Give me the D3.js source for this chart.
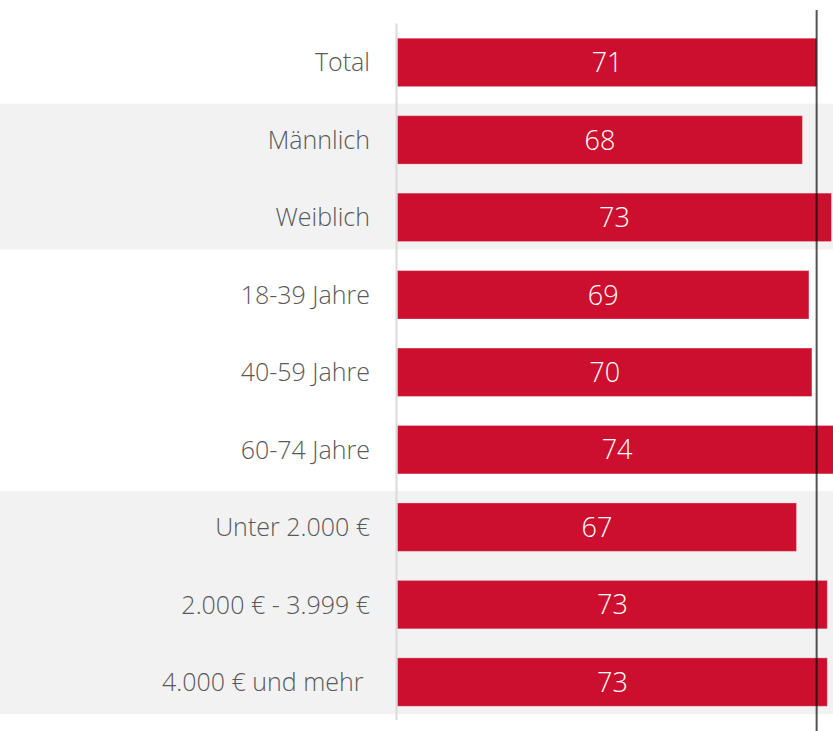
<!DOCTYPE html>
<html>
<head>
<meta charset="utf-8">
<script src="https://cdn.jsdelivr.net/npm/d3@7"></script>
<style>
  html, body { margin: 0; padding: 0; background: #fff; }
  svg { display: block; }
  text { white-space: pre; }
</style>
</head>
<body>
<div id="chart"></div>
<script>
// rows top to bottom
var categories = ["Total", "Männlich", "Weiblich", "18-39 Jahre", "40-59 Jahre", "60-74 Jahre",
    "Unter 2.000 €", "2.000 € - 3.999 €", "4.000 € und mehr "];
// bar lengths
var values = [70.8, 68.4, 73.3, 69.5, 70.0, 74.2, 67.4, 72.6, 72.6];
// printed labels
var valueLabels = ["71", "68", "73", "69", "70", "74", "67", "73", "73"];
// shaded groups: first and last row of each
var shadedGroups = [["Männlich", "Weiblich"], ["Unter 2.000 €", "4.000 € und mehr "]];
var referenceValue = values[0];

var width = 833, height = 731;

var svg = d3.select("#chart").append("svg")
    .attr("width", width)
    .attr("height", height);

var x = d3.scaleLinear().domain([0, 80]).range([397.5, 397.5 + 80 * 5.92]);
var y = d3.scaleBand().domain(categories).range([23.5, 721])
    .paddingInner(0.375).paddingOuter(0.19);

// grey background bands
svg.selectAll(".shade").data(shadedGroups)
    .enter().append("rect").attr("class", "shade")
    .attr("x", 0)
    .attr("width", width)
    .attr("y", function (d) { return y(d[0]) - 12; })
    .attr("height", function (d) { return y(d[1]) + y.bandwidth() - y(d[0]) + 20; })
    .style("fill", "#f2f2f2");

// axis line at zero
svg.append("line")
    .attr("x1", x(0) - 1).attr("x2", x(0) - 1)
    .attr("y1", y.range()[0]).attr("y2", y.range()[1] - 1)
    .style("stroke", "#d9d9d9")
    .style("stroke-width", 2);

var rows = categories.map(function (c, i) {
    return { cat: c, value: values[i], label: valueLabels[i] };
});

svg.selectAll(".bar").data(rows)
    .enter().append("rect").attr("class", "bar")
    .attr("x", x(0))
    .attr("y", function (d) { return y(d.cat); })
    .attr("width", function (d) { return x(d.value) - x(0); })
    .attr("height", y.bandwidth())
    .style("fill", "#cc0f2e")
    .style("stroke", "#ffffff")
    .style("stroke-opacity", 0.3)
    .style("stroke-width", 1);

svg.selectAll(".value").data(rows)
    .enter().append("text").attr("class", "value")
    .attr("x", function (d) { return (x(0) + x(d.value)) / 2; })
    .attr("y", function (d) { return y(d.cat) + y.bandwidth() / 2; })
    .attr("dy", "0.36em")
    .attr("text-anchor", "middle")
    .style("font-family", "'Open Sans', sans-serif")
    .style("font-weight", 300)
    .style("font-size", "27px")
    .style("fill", "#ffffff")
    .text(function (d) { return d.label; });

svg.selectAll(".cat").data(rows)
    .enter().append("text").attr("class", "cat")
    .attr("x", 370)
    .attr("y", function (d) { return y(d.cat) + y.bandwidth() / 2; })
    .attr("dy", "0.36em")
    .attr("text-anchor", "end")
    .style("font-family", "'Open Sans', sans-serif")
    .style("font-weight", 300)
    .style("font-size", "25px")
    .style("fill", "#595959")
    .text(function (d) { return d.cat; });

// reference line at the total
svg.append("line")
    .attr("x1", x(referenceValue)).attr("x2", x(referenceValue))
    .attr("y1", 10).attr("y2", height)
    .style("stroke", "#000")
    .style("stroke-opacity", 0.68)
    .style("stroke-width", 2);
</script>
</body>
</html>
